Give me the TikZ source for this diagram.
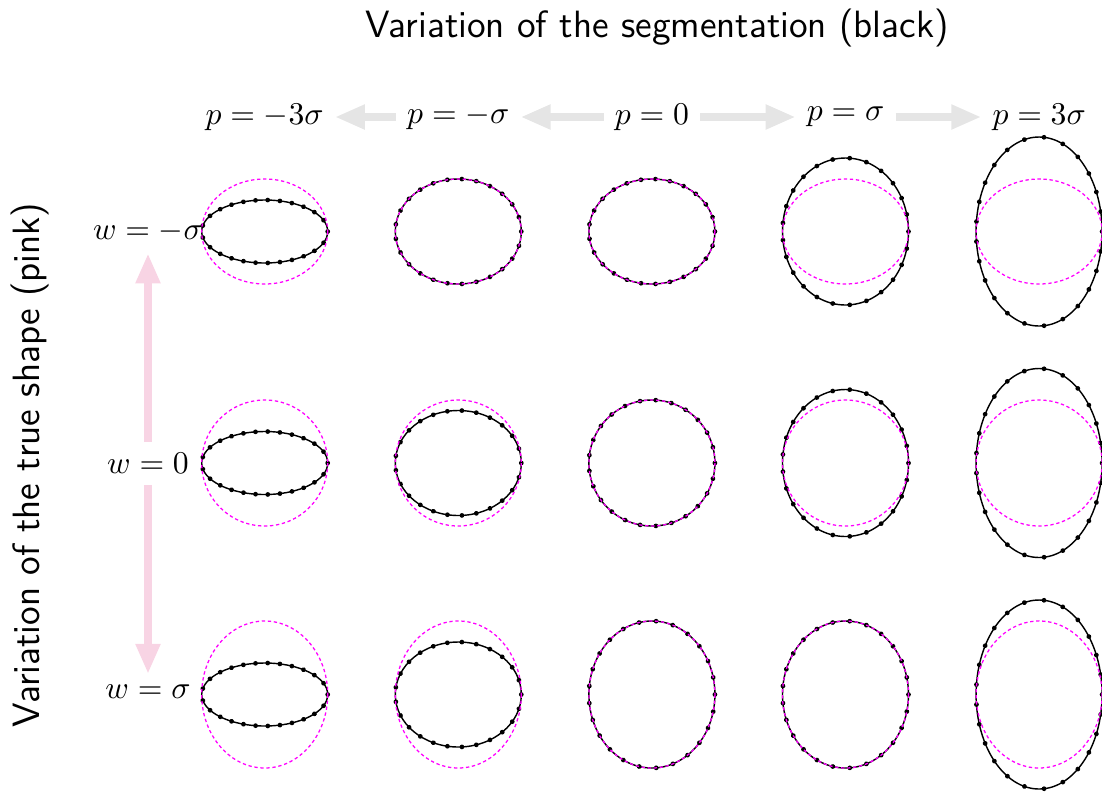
\documentclass[tikz,border=0pt]{standalone}
\usetikzlibrary{arrows.meta,decorations.markings}
\definecolor{arrgray}{RGB}{229,229,229}
\definecolor{arrpink}{RGB}{248,212,228}
\definecolor{truecol}{RGB}{255,0,255}
\tikzset{
  seg/.style={draw=black, line width=0.45pt,
    postaction={decorate},
    decoration={markings, mark=between positions 0 and 0.99 step 0.04 with {\fill[black] (0,0) circle[radius=0.75pt];}}},
  truth/.style={draw=truecol, line width=0.4pt, dash pattern=on 1.05pt off 0.85pt},
  lab/.style={inner sep=3.33pt},
  ttl/.style={font=\large\sffamily},
  garrow/.style={draw=arrgray, line width=2.7pt, -{Triangle[width=7.3pt,length=9.5pt]}},
  parrow/.style={draw=arrpink, line width=2.6pt, -{Triangle[width=7.3pt,length=9.5pt]}}
}
\begin{document}
\begin{tikzpicture}[x=0.3155pt, y=-0.3155pt]
\useasboundingbox (0,0) rectangle (1102,792);
% titles
\node[ttl, anchor=base] (title) at (657,37) {Variation of the segmentation (black)};
\node[ttl, rotate=90] (side) at (30,465) {Variation of the true shape (pink)};
% column labels
\node[lab] (p1) at (264.7,117) {$p=-3\sigma$};
\node[lab] (p2) at (458.3,117) {$p=-\sigma$};
\node[lab] (p3) at (651.9,117) {$p=0$};
\node[lab] (p4) at (845.6,117) {$p=\sigma$};
\node[lab] (p5) at (1039.2,117) {$p=3\sigma$};
\draw[garrow] (p3) -- (p2);
\draw[garrow] (p2) -- (p1);
\draw[garrow] (p3) -- (p4);
\draw[garrow] (p4) -- (p5);
% row labels
\node[lab] (w1) at (148,231.5) {$w=-\sigma$};
\node[lab] (w2) at (148,463.5) {$w=0$};
\node[lab] (w3) at (148,692) {$w=\sigma$};
\draw[parrow] (w2) -- (w1);
\draw[parrow] (w2) -- (w3);
% shapes
\foreach \pb [count=\r from 0] in {52.5,63,73.5}{
  \foreach \sb [count=\c from 0] in {31.5,52.5,\pb,73.5,94.5}{
    \draw[seg] ({264.7+193.6*\c},{231.5+231.5*\r}) ellipse [x radius=63, y radius=\sb];
    \draw[truth] ({264.7+193.6*\c},{231.5+231.5*\r}) ellipse [x radius=63, y radius=\pb];
  }
}
\end{tikzpicture}
\end{document}
